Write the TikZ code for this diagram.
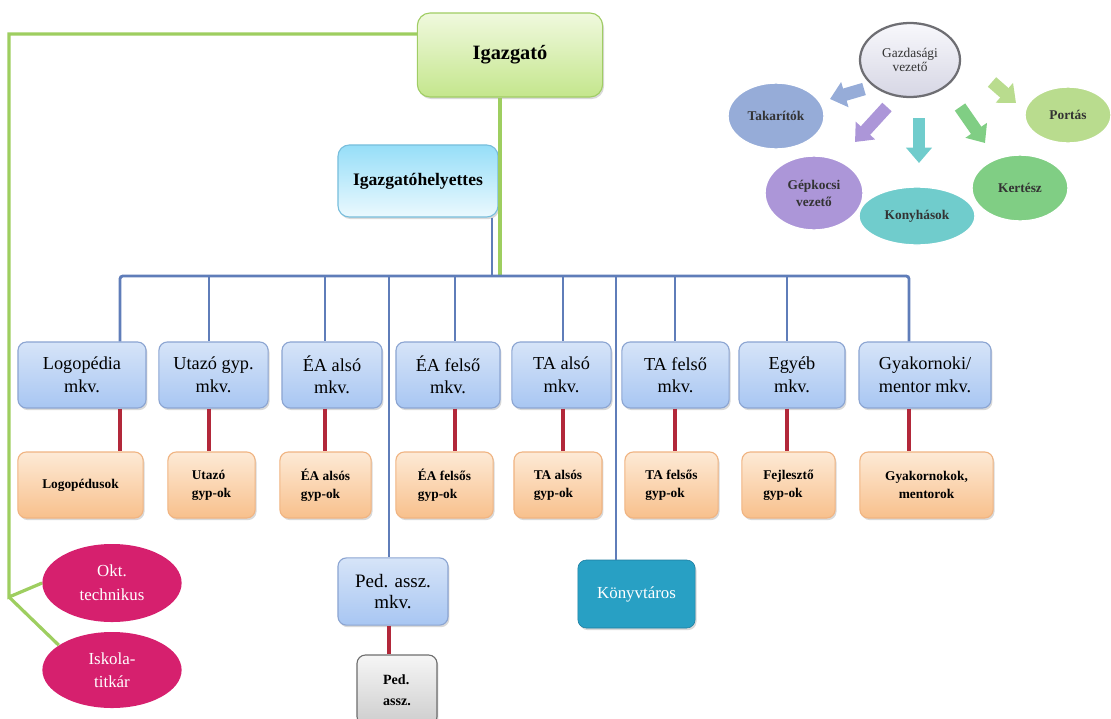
\documentclass[tikz,border=0pt]{standalone}
\usepackage{fontspec}
\setmainfont{Liberation Serif}
\usepackage{tikz}
\usetikzlibrary{shapes.geometric, shadows, arrows.meta}
\definecolor{igaztop}{RGB}{240, 249, 222}
\definecolor{igazbot}{RGB}{196, 230, 140}
\definecolor{igazline}{RGB}{160, 205, 100}
\definecolor{helytop}{RGB}{150, 222, 248}
\definecolor{helybot}{RGB}{235, 249, 254}
\definecolor{helyline}{RGB}{120, 190, 220}
\definecolor{mkvtop}{RGB}{214, 228, 248}
\definecolor{mkvbot}{RGB}{168, 198, 242}
\definecolor{mkvline}{RGB}{140, 165, 210}
\definecolor{gyptop}{RGB}{253, 234, 214}
\definecolor{gypbot}{RGB}{248, 192, 140}
\definecolor{gypline}{RGB}{240, 180, 130}
\definecolor{pedtop}{RGB}{246, 246, 246}
\definecolor{pedbot}{RGB}{205, 205, 205}
\definecolor{pedline}{RGB}{110, 110, 110}
\definecolor{konyv}{RGB}{40, 160, 196}
\definecolor{konyvline}{RGB}{30, 125, 160}
\definecolor{okt}{RGB}{214, 32, 110}
\definecolor{gaztop}{RGB}{248, 248, 252}
\definecolor{gazbot}{RGB}{214, 214, 228}
\definecolor{gazline}{RGB}{110, 110, 115}
\definecolor{takar}{RGB}{150, 172, 216}
\definecolor{portas}{RGB}{185, 220, 142}
\definecolor{gepk}{RGB}{172, 150, 216}
\definecolor{konyha}{RGB}{112, 204, 204}
\definecolor{kertesz}{RGB}{128, 206, 132}
\definecolor{greenline}{RGB}{158, 206, 96}
\definecolor{blueline}{RGB}{95, 125, 185}
\definecolor{redline}{RGB}{178, 40, 58}

\begin{document}
\begin{tikzpicture}[x=0.025cm, y=-0.025cm,
	boxshadow/.style={drop shadow={shadow xshift=1pt, shadow yshift=-1.5pt, opacity=0.3}},
	mkv/.style={draw=mkvline, thick, rounded corners=6pt, top color=mkvtop, bottom color=mkvbot, minimum height=1.65cm, align=center, inner sep=2pt, font=\fontsize{13}{16}\selectfont, boxshadow},
	gyp/.style={draw=gypline, thick, rounded corners=6pt, top color=gyptop, bottom color=gypbot, minimum height=1.65cm, align=left, inner sep=2pt, font=\bfseries\fontsize{9.5}{13}\selectfont, boxshadow},
	staff/.style={ellipse, draw=white, line width=1pt, inner sep=0pt, align=center, text=black!80, font=\bfseries\fontsize{9.5}{12}\selectfont},
	greenwire/.style={draw=greenline, line width=2.3pt},
	bluewire/.style={draw=blueline, line width=2pt},
	redwire/.style={draw=redline, line width=2.8pt},
	fatarrow/.style={line width=9pt, -{Triangle[width=18pt,length=11pt]}}]
	\clip (0,0) rectangle (1111,718);
	% vezetes
	\node[draw=igazline, thick, rounded corners=9pt, top color=igaztop, bottom color=igazbot, minimum width=4.63cm, minimum height=2.1cm, font=\bfseries\fontsize{14.5}{16}\selectfont, boxshadow] (igaz) at (510,55) {Igazgató};
	\node[draw=helyline, thick, rounded corners=8pt, top color=helytop, bottom color=helybot, minimum width=4cm, minimum height=1.8cm, font=\bfseries\fontsize{12.5}{14}\selectfont, boxshadow] (hely) at (418,181) {Igazgatóhelyettes};
	% munkakozossegek
	\node[mkv, minimum width=3.2cm] (lm) at (82,375) {Logopédia\\mkv.};
	\node[mkv, minimum width=2.73cm] (um) at (213.5,375) {Utazó gyp.\\mkv.};
	\node[mkv, minimum width=2.5cm] (eam) at (332,375) {ÉA alsó\\mkv.};
	\node[mkv, minimum width=2.6cm] (efm) at (448,375) {ÉA felső\\mkv.};
	\node[mkv, minimum width=2.48cm] (tam) at (561.5,375) {TA alsó\\mkv.};
	\node[mkv, minimum width=2.68cm] (tfm) at (675.5,375) {TA felső\\mkv.};
	\node[mkv, minimum width=2.65cm] (egm) at (792,375) {Egyéb\\mkv.};
	\node[mkv, minimum width=3.3cm] (gym) at (925,375) {Gyakornoki/\\mentor mkv.};
	\node[gyp, minimum width=3.13cm] (lo) at (80.5,485) {Logopédusok};
	\node[gyp, minimum width=2.18cm] (uo) at (211.5,485) {Utazó\\gyp-ok};
	\node[gyp, minimum width=2.28cm] (eao) at (325.5,485) {ÉA alsós\\gyp-ok};
	\node[gyp, minimum width=2.43cm] (efo) at (444.5,485) {ÉA felsős\\gyp-ok};
	\node[gyp, minimum width=2.2cm] (tao) at (558,485) {TA alsós\\gyp-ok};
	\node[gyp, minimum width=2.33cm] (tfo) at (671.5,485) {TA felsős\\gyp-ok};
	\node[gyp, minimum width=2.33cm] (ego) at (788.5,485) {Fejlesztő\\gyp-ok};
	\node[gyp, minimum width=3.33cm, align=center] (gyo) at (926.5,485) {Gyakornokok,\\mentorok};
	\node[mkv, minimum width=2.75cm, minimum height=1.68cm, font=\fontsize{13.5}{15}\selectfont] (pm) at (393,591.5) {Ped. assz.\\mkv.};
	\node[draw=pedline, thick, rounded corners=6pt, top color=pedtop, bottom color=pedbot, minimum width=2cm, minimum height=1.75cm, align=left, font=\bfseries\fontsize{10}{15}\selectfont, boxshadow] (pa) at (397,690) {Ped.\\assz.};
	\node[draw=konyvline, rounded corners=6pt, fill=konyv, text=white, minimum width=2.93cm, minimum height=1.7cm, font=\fontsize{12}{14}\selectfont, boxshadow] (konyv) at (636.5,594) {Könyvtáros};
	\node[ellipse, fill=okt, text=white, minimum width=3.48cm, minimum height=1.95cm, inner sep=0pt, align=center, font=\fontsize{12}{17}\selectfont] (okt) at (112,583) {Okt.\\technikus};
	\node[ellipse, fill=okt, text=white, minimum width=3.48cm, minimum height=1.9cm, inner sep=0pt, align=center, font=\fontsize{12}{16}\selectfont] (isk) at (112,670) {Iskola-\\titkár};
	% gazdasagi csoport
	\node[ellipse, draw=gazline, line width=1.6pt, top color=gaztop, bottom color=gazbot, minimum width=2.5cm, minimum height=1.85cm, inner sep=0pt, align=center, text=black!80, font=\fontsize{9.5}{10.5}\selectfont] (gaz) at (910,60) {Gazdasági\\vezető};
	\node[staff, fill=takar, minimum width=2.4cm, minimum height=1.65cm] (tak) at (776,116) {Takarítók};
	\node[staff, fill=portas, minimum width=2.15cm, minimum height=1.4cm] (por) at (1068,115) {Portás};
	\node[staff, fill=gepk, minimum width=2.45cm, minimum height=1.85cm] (gep) at (814,193) {Gépkocsi\\vezető};
	\node[staff, fill=konyha, minimum width=2.9cm, minimum height=1.45cm] (kon) at (917,216) {Konyhások};
	\node[staff, fill=kertesz, minimum width=2.4cm, minimum height=1.65cm] (ker) at (1020,188) {Kertész};
	% sin
	\coordinate (b1) at (120,276);
	\coordinate (b2) at (209,276);
	\coordinate (b3) at (325,276);
	\coordinate (b4) at (389,276);
	\coordinate (b5) at (455,276);
	\coordinate (b6) at (563,276);
	\coordinate (b7) at (616,276);
	\coordinate (b8) at (675,276);
	\coordinate (b9) at (787,276);
	\coordinate (b10) at (909,276);
	\coordinate (hb) at (492,276);
	\coordinate (gb) at (500,276);
	\coordinate (gtop) at (9,34);
	\coordinate (gj) at (9,597);
	\draw[greenwire] (igaz.west |- gtop) -- (gtop) -- (gj) -- (okt.west);
	\draw[greenwire] (gj) -- (isk.155);
	\draw[greenwire] (igaz.south -| gb) -- (gb);
	\draw[bluewire] (hely.south -| hb) -- (hb);
	\draw[bluewire, rounded corners=2pt] (b1 |- lm.north) -- (b1) -- (b10) -- (b10 |- gym.north);
	\draw[bluewire] (b2) -- (b2 |- um.north);
	\draw[bluewire] (b3) -- (b3 |- eam.north);
	\draw[bluewire] (b4) -- (b4 |- pm.north);
	\draw[bluewire] (b5) -- (b5 |- efm.north);
	\draw[bluewire] (b6) -- (b6 |- tam.north);
	\draw[bluewire] (b7) -- (b7 |- konyv.north);
	\draw[bluewire] (b8) -- (b8 |- tfm.north);
	\draw[bluewire] (b9) -- (b9 |- egm.north);
	\draw[redwire] (b1 |- lm.south) -- (b1 |- lo.north);
	\draw[redwire] (b2 |- um.south) -- (b2 |- uo.north);
	\draw[redwire] (b3 |- eam.south) -- (b3 |- eao.north);
	\draw[redwire] (b5 |- efm.south) -- (b5 |- efo.north);
	\draw[redwire] (b6 |- tam.south) -- (b6 |- tao.north);
	\draw[redwire] (b8 |- tfm.south) -- (b8 |- tfo.north);
	\draw[redwire] (b9 |- egm.south) -- (b9 |- ego.north);
	\draw[redwire] (b10 |- gym.south) -- (b10 |- gyo.north);
	\draw[redwire] (b4 |- pm.south) -- (b4 |- pa.north);
	% nyilak
	\coordinate (a1s) at (864,89);
	\coordinate (a1e) at (830,99);
	\coordinate (a2s) at (887,107);
	\coordinate (a2e) at (855,142);
	\coordinate (a3s) at (919,118);
	\coordinate (a3e) at (919,163);
	\coordinate (a4s) at (960,107);
	\coordinate (a4e) at (985,143);
	\coordinate (a5s) at (992,82);
	\coordinate (a5e) at (1016,103);
	\draw[fatarrow, takar] (a1s) -- (a1e);
	\draw[fatarrow, gepk] (a2s) -- (a2e);
	\draw[fatarrow, konyha] (a3s) -- (a3e);
	\draw[fatarrow, kertesz] (a4s) -- (a4e);
	\draw[fatarrow, portas] (a5s) -- (a5e);
\end{tikzpicture}
\end{document}
